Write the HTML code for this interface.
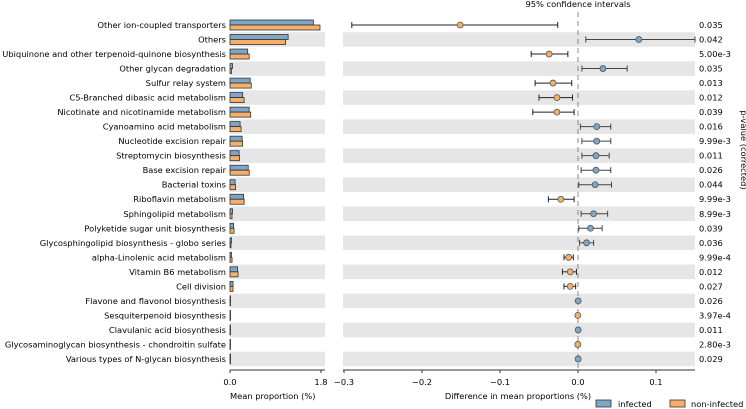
<!DOCTYPE html>
<html><head><meta charset="utf-8"><style>
html,body{margin:0;padding:0;background:#fff;}
svg{display:block;font-family:"DejaVu Sans","Liberation Sans",sans-serif;}
</style></head><body>
<svg id="chart" width="746" height="409" viewBox="0 0 746 409" xmlns="http://www.w3.org/2000/svg"></svg>
<script>
const categories=["Other ion-coupled transporters","Others","Ubiquinone and other terpenoid-quinone biosynthesis","Other glycan degradation","Sulfur relay system","C5-Branched dibasic acid metabolism","Nicotinate and nicotinamide metabolism","Cyanoamino acid metabolism","Nucleotide excision repair","Streptomycin biosynthesis","Base excision repair","Bacterial toxins","Riboflavin metabolism","Sphingolipid metabolism","Polyketide sugar unit biosynthesis","Glycosphingolipid biosynthesis - globo series","alpha-Linolenic acid metabolism","Vitamin B6 metabolism","Cell division","Flavone and flavonol biosynthesis","Sesquiterpenoid biosynthesis","Clavulanic acid biosynthesis","Glycosaminoglycan biosynthesis - chondroitin sulfate","Various types of N-glycan biosynthesis"];
const infectedMean=[1.65,1.15,0.35,0.05,0.40,0.25,0.38,0.20,0.24,0.18,0.36,0.10,0.27,0.05,0.07,0.03,0.03,0.15,0.06,0.005,0.003,0.004,0.002,0.003];
const nonInfectedMean=[1.78,1.10,0.38,0.03,0.42,0.28,0.41,0.22,0.25,0.19,0.38,0.11,0.28,0.04,0.08,0.02,0.04,0.16,0.06,0.001,0.004,0.002,0.003,0.002];
const diff=[-0.151,0.078,-0.037,0.032,-0.032,-0.027,-0.027,0.024,0.024,0.023,0.023,0.022,-0.022,0.020,0.016,0.011,-0.012,-0.010,-0.010,0.0002,-0.0002,0.0002,-0.0002,0.0002];
const ciLow=[-0.290,0.010,-0.060,0.005,-0.055,-0.050,-0.058,0.003,0.005,0.005,0.004,0.001,-0.038,0.004,0.001,0.002,-0.018,-0.020,-0.018,0,0,0,0,0];
const ciHigh=[-0.026,0.150,-0.013,0.063,-0.008,-0.007,-0.005,0.042,0.042,0.040,0.042,0.043,-0.005,0.038,0.031,0.020,-0.006,-0.002,-0.003,0,0,0,0,0];
const pValues=["0.035","0.042","5.00e-3","0.035","0.013","0.012","0.039","0.016","9.99e-3","0.011","0.026","0.044","9.99e-3","8.99e-3","0.039","0.036","9.99e-4","0.012","0.027","0.026","3.97e-4","0.011","2.80e-3","0.029"];
const meanTicks=[0,1.8];
const diffTicks=[-0.3,-0.2,-0.1,0.0,0.1];

const svg=document.getElementById('chart');
const NS="http://www.w3.org/2000/svg";
function mk(tag,attrs,parent){const e=document.createElementNS(NS,tag);for(const k in attrs)e.setAttribute(k,attrs[k]);(parent||svg).appendChild(e);return e;}
const BLUE="#7ea6c6",ORANGE="#f4b06a";
const FS="8.3";
const rowY=i=>25+i*14.52;
const xMean=v=>230+v*(91/1.8);
const xDiff=v=>578+v*780;
const fmt=v=>v===0?"0.0":(v<0?"\u2212":"")+Math.abs(v).toFixed(1);

categories.forEach((c,i)=>{
  const y=rowY(i);
  if(i%2===1){
    const b1=mk('rect',{x:230,y:y-7.26,width:95,height:14.52,fill:"#e6e6e6"});
    
    const b2=mk('rect',{x:343,y:y-7.26,width:352,height:14.52,fill:"#e6e6e6"});
    
  }
  const t=mk('text',{x:226,y:y+3,"text-anchor":"end","font-size":FS});t.textContent=c;
  
  const r1=mk('rect',{x:230,y:y-5,width:Math.max(0.5,xMean(infectedMean[i])-230),height:5,fill:BLUE,stroke:"#333","stroke-width":0.8});
  
  const r2=mk('rect',{x:230,y:y,width:Math.max(0.5,xMean(nonInfectedMean[i])-230),height:5,fill:ORANGE,stroke:"#333","stroke-width":0.8});
  
  const p=mk('text',{x:699,y:y+3,"font-size":FS});p.textContent=pValues[i];
  
});
const z=mk('line',{x1:578,x2:578,y1:12,y2:368,stroke:"#888","stroke-dasharray":"5,4","stroke-width":1});

categories.forEach((c,i)=>{
  const y=rowY(i);
  if(ciLow[i]!==ciHigh[i]){
    const col=diff[i]<0?"#222":"#444";
    const l=mk('line',{x1:xDiff(ciLow[i]),x2:xDiff(ciHigh[i]),y1:y,y2:y,stroke:col,"stroke-width":1});
    
    [ciLow[i],ciHigh[i]].forEach(v=>{const cap=mk('line',{x1:xDiff(v),x2:xDiff(v),y1:y-3,y2:y+3,stroke:col,"stroke-width":1});
      });
  }
  const m=mk('circle',{cx:xDiff(diff[i]),cy:y,r:3,fill:diff[i]>0?BLUE:ORANGE,stroke:"#555","stroke-width":0.8});
  
});
const a1=mk('line',{x1:230,x2:325,y1:370,y2:370,stroke:"#333"});
meanTicks.forEach(v=>{const tk=mk('line',{x1:xMean(v),x2:xMean(v),y1:370,y2:373,stroke:"#333"});
  const tl=mk('text',{x:xMean(v),y:385,"text-anchor":"middle","font-size":FS});tl.textContent=v.toFixed(1);});
const a2=mk('line',{x1:343,x2:695,y1:370,y2:370,stroke:"#333"});
diffTicks.forEach(v=>{const tk=mk('line',{x1:xDiff(v),x2:xDiff(v),y1:370,y2:373,stroke:"#333"});
  const tl=mk('text',{x:xDiff(v),y:385,"text-anchor":"middle","font-size":FS});tl.textContent=fmt(v);});
const t1=mk('text',{x:230,y:399,"font-size":FS});t1.textContent="Mean proportion (%)";
const t2=mk('text',{x:518,y:399,"text-anchor":"middle","font-size":FS});t2.textContent="Difference in mean proportions (%)";
const t3=mk('text',{x:578,y:7,"text-anchor":"middle","font-size":FS});t3.textContent="95% confidence intervals";
const t4=mk('text',{x:741,y:150,"text-anchor":"middle","font-size":FS,transform:"rotate(90 741 150)"});t4.textContent="p-value (corrected)";
const lb=mk('rect',{x:596,y:400,width:15,height:7,fill:BLUE,stroke:"#333","stroke-width":0.8});
const lt=mk('text',{x:618,y:407,"font-size":FS});lt.textContent="infected";
const ob=mk('rect',{x:670,y:400,width:15,height:7,fill:ORANGE,stroke:"#333","stroke-width":0.8});
const ot=mk('text',{x:691,y:407,"font-size":FS});ot.textContent="non-infected";
</script>
</body></html>
